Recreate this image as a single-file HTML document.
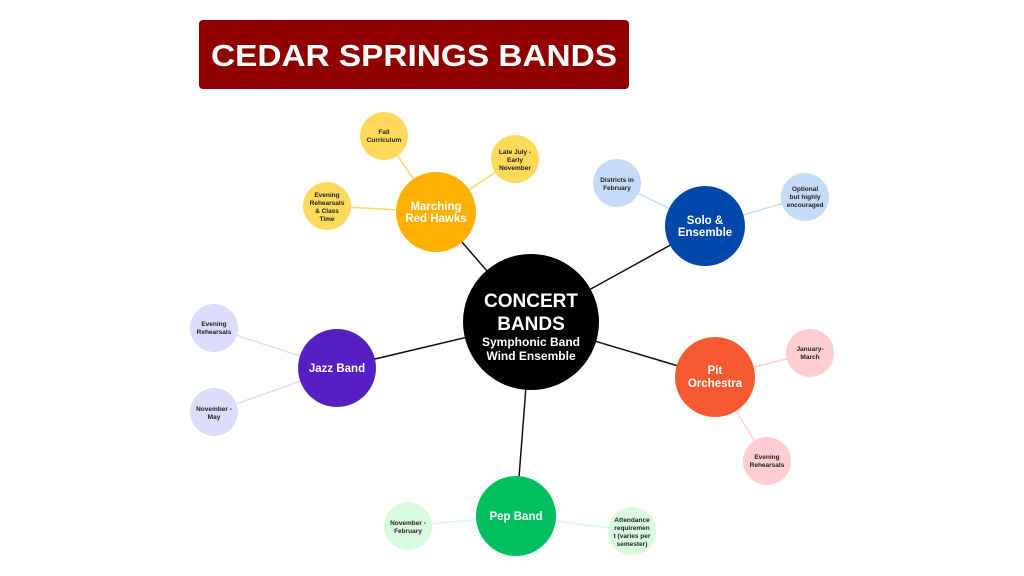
<!DOCTYPE html>
<html><head><meta charset="utf-8"><style>
html,body{margin:0;padding:0;background:#fff;}
svg{display:block;}
text{font-family:"Liberation Sans",sans-serif;font-weight:bold;text-anchor:middle;}
</style></head><body>
<svg width="1024" height="576" viewBox="0 0 1024 576" xmlns="http://www.w3.org/2000/svg">
<rect x="199" y="20" width="430" height="69" rx="4" fill="#900000"/>
<text x="414" y="66" font-size="31" fill="#fff" textLength="406" lengthAdjust="spacingAndGlyphs">CEDAR SPRINGS BANDS</text>

<!-- main connectors -->
<g stroke="#111" stroke-width="1.5">
<line x1="531" y1="322" x2="436" y2="212"/>
<line x1="531" y1="322" x2="705" y2="226"/>
<line x1="531" y1="322" x2="715" y2="377"/>
<line x1="531" y1="322" x2="337" y2="368"/>
<line x1="531" y1="322" x2="516" y2="516"/>
</g>
<!-- sub connectors -->
<g stroke-width="1.5">
<line x1="436" y1="212" x2="384" y2="136" stroke="#ffd95a"/>
<line x1="436" y1="212" x2="515" y2="159" stroke="#ffd95a"/>
<line x1="436" y1="212" x2="327" y2="206" stroke="#ffd95a"/>
<line x1="705" y1="226" x2="617" y2="183" stroke="#c4dcf8"/>
<line x1="705" y1="226" x2="805" y2="197" stroke="#c4dcf8"/>
<line x1="715" y1="377" x2="810" y2="353" stroke="#ffcdd2"/>
<line x1="715" y1="377" x2="767" y2="461" stroke="#ffcdd2"/>
<line x1="337" y1="368" x2="214" y2="328" stroke="#dcdcfc"/>
<line x1="337" y1="368" x2="214" y2="412" stroke="#dcdcfc"/>
<line x1="516" y1="516" x2="408" y2="526" stroke="#d8fbe0"/>
<line x1="516" y1="516" x2="632" y2="531" stroke="#d8fbe0"/>
</g>

<circle cx="531" cy="322" r="68" fill="#000"/>
<text x="531" y="307" font-size="19" fill="#fff">CONCERT</text>
<text x="531" y="330" font-size="19" fill="#fff">BANDS</text>
<text x="531" y="346" font-size="12" fill="#fff">Symphonic Band</text>
<text x="531" y="360" font-size="12" fill="#fff">Wind Ensemble</text>

<circle cx="436" cy="212" r="40" fill="#ffb000"/>
<text x="436" y="210" font-size="11.5" fill="#fff">Marching</text>
<text x="436" y="222" font-size="11.5" fill="#fff">Red Hawks</text>

<circle cx="705" cy="226" r="40" fill="#0047ab"/>
<text x="705" y="224" font-size="11.5" fill="#fff">Solo &amp;</text>
<text x="705" y="236" font-size="11.5" fill="#fff">Ensemble</text>

<circle cx="715" cy="377" r="40" fill="#f55a33"/>
<text x="715" y="374" font-size="11.5" fill="#fff">Pit</text>
<text x="715" y="387" font-size="11.5" fill="#fff">Orchestra</text>

<circle cx="337" cy="368" r="39" fill="#561fc4"/>
<text x="337" y="372" font-size="11.5" fill="#fff">Jazz Band</text>

<circle cx="516" cy="516" r="40" fill="#00c060"/>
<text x="516" y="520" font-size="11.5" fill="#fff">Pep Band</text>

<g font-size="6.5" fill="#222">
<circle cx="384" cy="136" r="24" fill="#ffd95a"/>
<text x="384" y="134">Fall</text><text x="384" y="142">Curriculum</text>
<circle cx="515" cy="159" r="24" fill="#ffd95a"/>
<text x="515" y="154">Late July -</text><text x="515" y="162">Early</text><text x="515" y="170">November</text>
<circle cx="327" cy="206" r="24" fill="#ffd95a"/>
<text x="327" y="197">Evening</text><text x="327" y="205">Rehearsals</text><text x="327" y="213">&amp; Class</text><text x="327" y="221">Time</text>
<circle cx="617" cy="183" r="24" fill="#c4dcf8"/>
<text x="617" y="182">Districts in</text><text x="617" y="190">February</text>
<circle cx="805" cy="197" r="24" fill="#c4dcf8"/>
<text x="805" y="191">Optional</text><text x="805" y="199">but highly</text><text x="805" y="207">encouraged</text>
<circle cx="810" cy="353" r="24" fill="#ffcdd2"/>
<text x="810" y="351">January-</text><text x="810" y="359">March</text>
<circle cx="767" cy="461" r="24" fill="#ffcdd2"/>
<text x="767" y="459">Evening</text><text x="767" y="467">Rehearsals</text>
<circle cx="214" cy="328" r="24" fill="#dcdcfc"/>
<text x="214" y="326">Evening</text><text x="214" y="334">Rehearsals</text>
<circle cx="214" cy="412" r="24" fill="#dcdcfc"/>
<text x="214" y="411">November -</text><text x="214" y="419">May</text>
<circle cx="408" cy="526" r="24" fill="#d8fbe0"/>
<text x="408" y="525">November -</text><text x="408" y="533">February</text>
<circle cx="632" cy="531" r="24" fill="#d8fbe0"/>
<text x="632" y="522">Attendance</text><text x="632" y="530">requiremen</text><text x="632" y="538">t (varies per</text><text x="632" y="546">semester)</text>
</g>
</svg>
</body></html>
